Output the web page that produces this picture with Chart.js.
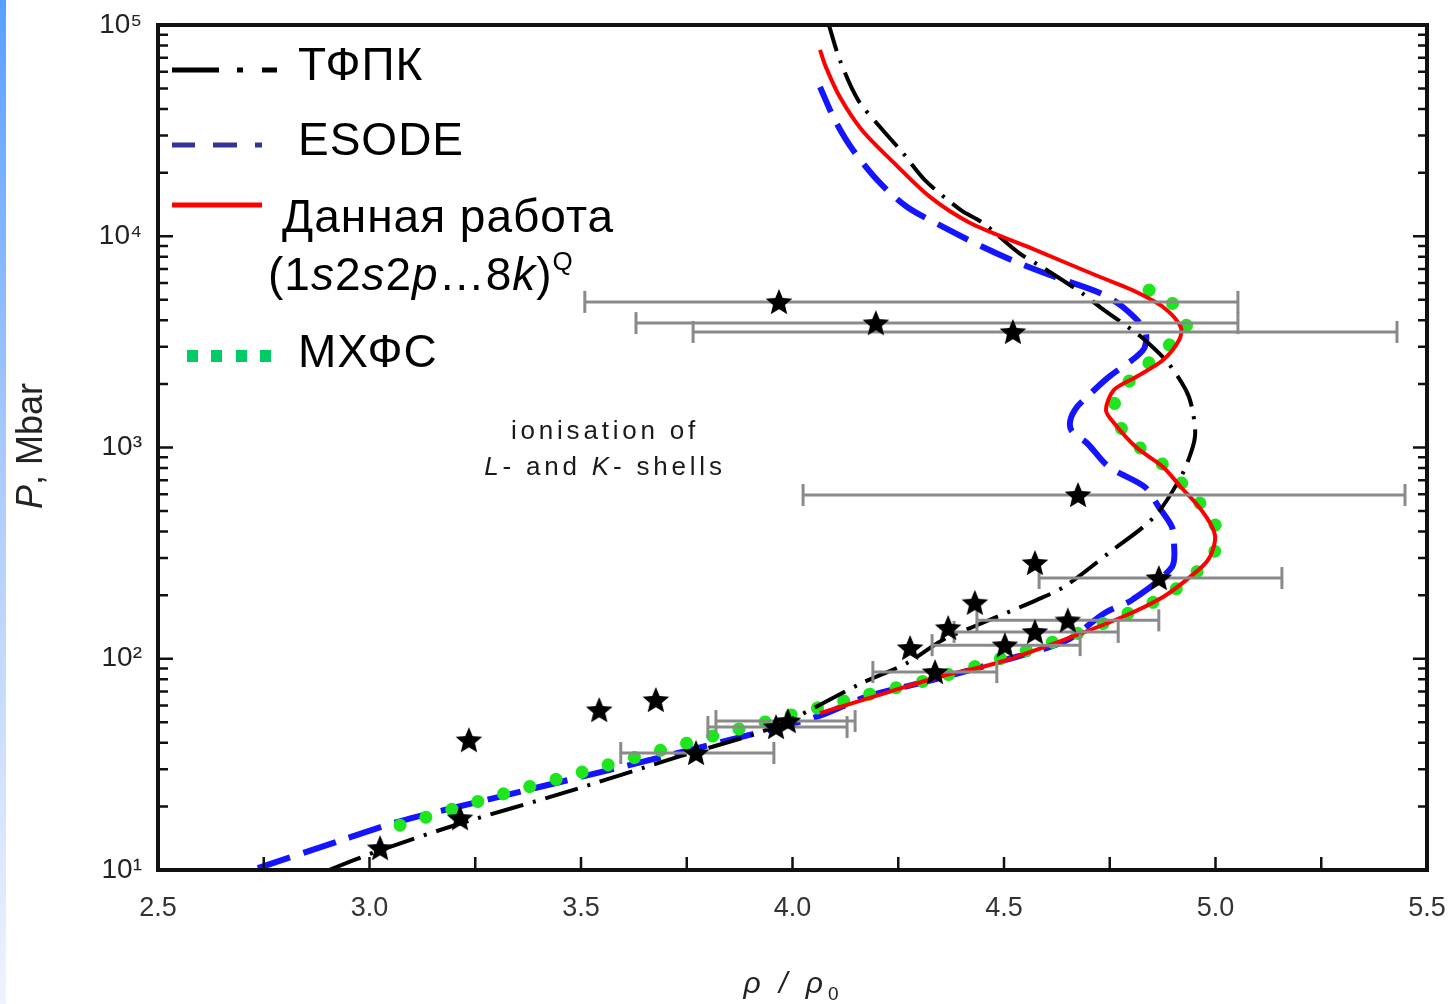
<!DOCTYPE html>
<html>
<head>
<meta charset="utf-8">
<script src="https://cdn.jsdelivr.net/npm/chart.js@4.4.1/dist/chart.umd.min.js"></script>
<style>
  html, body { margin: 0; padding: 0; background: #fff; width: 1454px; height: 1004px; overflow: hidden; }
  #wrap { position: relative; width: 1454px; height: 1004px; overflow: hidden; font-family: "Liberation Sans", Arial, sans-serif; }
  #strip { position: absolute; left: 0; top: 0; width: 6px; height: 1004px; background: linear-gradient(#58a0ff, #a9c9ff 45%, #eef3ff); }
  #chart { position: absolute; left: 0; top: 0; }
  #marks { position: absolute; left: 0; top: 0; }
  .lg { position: absolute; font-size: 46px; line-height: 46px; letter-spacing: 1px; color: #000; white-space: nowrap; }
  .note { position: absolute; left: 605px; top: 412px; transform: translateX(-50%); font-size: 26px; line-height: 36px; letter-spacing: 3.8px; color: #1a1a1a; text-align: center; white-space: nowrap; }
  .ytitle { position: absolute; left: 30px; top: 446px; transform: translate(-50%, -50%) rotate(-90deg); font-size: 36px; color: #222; white-space: nowrap; }
  .xtitle { position: absolute; left: 791px; top: 968px; transform: translateX(-50%); font-size: 30px; line-height: 30px; letter-spacing: 5px; color: #222; white-space: nowrap; font-style: italic; }
  .xtitle sub { font-style: normal; font-size: 19px; letter-spacing: 0; }
</style>
</head>
<body>
<div id="wrap">
  <div id="strip"></div>
  <canvas id="chart" width="1454" height="1004"></canvas>

  <!-- легенда -->
  <svg id="marks" width="300" height="380">
    <g stroke="#000" stroke-width="5">
      <line x1="172" y1="70" x2="219" y2="70"/>
      <line x1="237" y1="70" x2="243" y2="70"/>
      <line x1="262" y1="70" x2="277" y2="70"/>
    </g>
    <g stroke="#333399" stroke-width="5">
      <line x1="172" y1="145" x2="195" y2="145"/>
      <line x1="213" y1="145" x2="237" y2="145"/>
      <line x1="255" y1="145" x2="262" y2="145"/>
    </g>
    <line x1="172" y1="205" x2="262" y2="205" stroke="#ff0000" stroke-width="5"/>
    <g fill="#00cc66">
      <rect x="187" y="350" width="11" height="12"/>
      <rect x="211" y="350" width="11" height="12"/>
      <rect x="236" y="350" width="11" height="12"/>
      <rect x="260" y="350" width="11" height="12"/>
    </g>
  </svg>
  <div class="lg" style="left:298px;top:41px">ТФПК</div>
  <div class="lg" style="left:298px;top:116px">ESODE</div>
  <div class="lg" style="left:282px;top:193px">Данная работа</div>
  <div class="lg" style="left:268px;top:251px">(1<i>s</i>2<i>s</i>2<i>p</i>…8<i>k</i>)<span style="font-size:26px;position:relative;top:-20px">Q</span></div>
  <div class="lg" style="left:298px;top:328px">МХФС</div>

  <div class="note">ionisation of<br><i>L</i>- and <i>K</i>- shells</div>
  <div class="ytitle"><i>P</i>, Mbar</div>
  <div class="xtitle">ρ / ρ<sub>0</sub></div>
</div>

<script>
// оси
const xTicks = [2.5, 3.0, 3.5, 4.0, 4.5, 5.0, 5.5];
const yTicks = [10, 100, 1000, 10000, 100000];
const supDigits = ['⁰', '¹', '²', '³', '⁴', '⁵'];

// ТФПК (штрих-пунктир)
const tfpkRho = [2.904, 3.025, 3.219, 3.457, 3.729, 3.956, 4.164, 4.271, 4.356, 4.450, 4.578, 4.642, 4.748, 4.855, 4.918, 4.944, 4.952, 4.944, 4.930, 4.888, 4.833, 4.803, 4.727, 4.684, 4.590, 4.535, 4.450, 4.398, 4.313, 4.261, 4.207, 4.155, 4.112, 4.086];
const tfpkP = [10, 12.4, 16.7, 23.1, 34.3, 47.5, 76.7, 95.5, 123, 148, 190, 219, 317, 469, 725, 972, 1172, 1556, 1872, 2512, 3228, 3597, 4624, 5387, 7147, 8337, 11560, 13300, 18450, 24770, 32900, 44170, 68200, 100000];

// ESODE (штрихи)
const esodeRho = [2.736, 2.937, 3.067, 3.306, 3.566, 3.784, 4.056, 4.174, 4.349, 4.490, 4.647, 4.739, 4.803, 4.897, 4.902, 4.897, 4.866, 4.833, 4.748, 4.696, 4.660, 4.657, 4.672, 4.696, 4.748, 4.812, 4.833, 4.833, 4.781, 4.727, 4.621, 4.535, 4.450, 4.356, 4.271, 4.207, 4.143, 4.100, 4.065];
const esodeP = [10.2, 13.9, 16.9, 22.2, 29.7, 38.2, 53.0, 66, 81, 97, 122, 165, 190, 272, 353, 421, 523, 650, 809, 1050, 1200, 1350, 1550, 1734, 2158, 2681, 2993, 3597, 4624, 5387, 6414, 7470, 8898, 11070, 13750, 17860, 25600, 35500, 50900];

// Данная работа (сплошная)
const workRho = [4.065, 4.219, 4.346, 4.483, 4.642, 4.781, 4.876, 4.940, 4.982, 4.999, 4.992, 4.961, 4.918, 4.876, 4.812, 4.760, 4.741, 4.760, 4.812, 4.876, 4.914, 4.918, 4.876, 4.803, 4.727, 4.557, 4.420, 4.325, 4.240, 4.164, 4.112, 4.079, 4.065];
const workP = [55.3, 68.8, 82.0, 95.5, 123, 158, 196, 244, 293, 365, 421, 523, 650, 809, 1005, 1306, 1506, 1873, 2158, 2596, 3228, 3718, 4624, 5567, 6414, 8898, 11560, 15350, 22240, 31840, 45600, 63200, 76200];

// МХФС (точки)
const mhfsRho = [3.072, 3.306, 3.479, 3.708, 3.935, 4.174, 4.349, 4.490, 4.647, 4.786, 4.885, 4.951, 4.992, 5.007, 4.998, 4.965, 4.924, 4.876, 4.817, 4.770, 4.760, 4.770, 4.824, 4.876, 4.930, 4.918, 4.855, 4.796];
const mhfsP = [16.3, 22.6, 28.2, 37.8, 50.2, 67.3, 82, 100, 126, 162, 200, 253, 305, 375, 434, 540, 665, 830, 1015, 1290, 1506, 1810, 2320, 2900, 3600, 4460, 5390, 6210];

// эксперимент (звёзды)
const starRho = [3.025, 3.214, 3.235, 3.543, 3.677, 3.772, 3.961, 3.989, 4.278, 4.337, 4.368, 4.502, 4.431, 4.573, 4.651, 4.573, 4.866, 4.675, 3.968, 4.197, 4.521];
const starP = [12.7, 17.6, 41.2, 57.2, 63.8, 35.8, 47.5, 50.7, 112.5, 86.5, 140, 116, 184, 134, 152, 284, 241, 596, 4890, 3880, 3525];

// погрешности
const errP = [35.8, 47.5, 50.7, 86.5, 116, 134, 152, 241, 596, 4890, 3880, 3525];
const errLo = [3.594, 3.800, 3.819, 4.190, 4.330, 4.382, 4.436, 4.583, 4.025, 3.509, 3.630, 3.765];
const errHi = [3.956, 4.129, 4.148, 4.483, 4.680, 4.770, 4.866, 5.157, 5.448, 5.053, 5.053, 5.429];

const pts = (xs, ys) => xs.map((x, i) => ({ x, y: ys[i] }));

function makeStar(r) {
  const c = document.createElement('canvas');
  const s = Math.ceil(r * 2 + 2);
  c.width = s; c.height = s;
  const g = c.getContext('2d');
  g.beginPath();
  for (let i = 0; i < 10; i++) {
    const rr = i % 2 ? r * 0.45 : r;
    const a = -Math.PI / 2 + i * Math.PI / 5;
    g.lineTo(s / 2 + rr * Math.cos(a), s / 2 + rr * Math.sin(a) + 1);
  }
  g.closePath();
  g.fillStyle = '#000';
  g.fill();
  return c;
}

// рамка и засечки внутрь
const framePlugin = {
  id: 'frame',
  afterDatasetsDraw(chart) {
    const { ctx, chartArea: a, scales: { x, y } } = chart;
    ctx.save();
    ctx.strokeStyle = '#111';
    ctx.lineWidth = 4;
    ctx.strokeRect(a.left, a.top, a.right - a.left, a.bottom - a.top);
    ctx.lineWidth = 2.5;
    ctx.beginPath();
    for (let d = 1; d <= 5; d++) {
      for (let m = 1; m <= 9; m++) {
        const v = m * Math.pow(10, d);
        if (v > 1e5) break;
        const py = y.getPixelForValue(v);
        ctx.moveTo(a.left, py); ctx.lineTo(a.left + (m === 1 ? 15 : 10), py);
        ctx.moveTo(a.right, py); ctx.lineTo(a.right - (m === 1 ? 14 : 9), py);
      }
    }
    for (let v = 2.75; v < 5.5; v += 0.25) {
      const px = x.getPixelForValue(v);
      ctx.moveTo(px, a.bottom); ctx.lineTo(px, a.bottom - 13);
    }
    ctx.stroke();
    ctx.restore();
  }
};

Chart.defaults.font.family = '"Liberation Sans", Arial, sans-serif';

const curve = { showLine: true, pointRadius: 0, pointHoverRadius: 0, tension: 0.3, fill: false };

const datasets = [
  { ...curve, label: 'ESODE', data: pts(esodeRho, esodeP), borderColor: '#1414ff', borderWidth: 6, borderDash: [34, 14], order: 5 },
  { ...curve, label: 'МХФС', data: pts(mhfsRho, mhfsP), borderColor: '#1ee61e', borderWidth: 13, borderDash: [0.1, 27], borderCapStyle: 'round', order: 4 },
  { ...curve, label: 'ТФПК', data: pts(tfpkRho, tfpkP), borderColor: '#000', borderWidth: 4, borderDash: [34, 10, 3, 10], order: 3 },
  { ...curve, label: 'Данная работа', data: pts(workRho, workP), borderColor: '#ff0000', borderWidth: 4, order: 2 },
  ...errP.map((p, i) => ({
    label: 'err' + i,
    data: [{ x: errLo[i], y: p }, { x: errHi[i], y: p }],
    showLine: true, borderColor: '#8a8a8a', borderWidth: 3,
    pointStyle: 'line', pointRotation: 90, pointRadius: 11, pointBorderWidth: 3,
    pointBorderColor: '#8a8a8a', order: 1
  })),
  { label: 'эксперимент', data: pts(starRho, starP), showLine: false, pointStyle: makeStar(14), pointRadius: 14, order: 0 }
];

new Chart(document.getElementById('chart'), {
  type: 'scatter',
  data: { datasets },
  options: {
    responsive: false,
    animation: false,
    layout: { autoPadding: false, padding: { top: 25, right: 27, left: 0, bottom: 0 } },
    plugins: { legend: { display: false }, tooltip: { enabled: false } },
    scales: {
      x: {
        type: 'linear', min: 2.5, max: 5.5,
        // без запаса под крайние подписи, иначе область сдвигается
        afterFit: (s) => { s.height = 134; s.paddingLeft = 0; s.paddingRight = 0; },
        afterBuildTicks: (s) => { s.ticks = xTicks.map((v) => ({ value: v })); },
        ticks: { callback: (v) => Number(v).toFixed(1), color: '#333', font: { size: 27 }, padding: 22, maxRotation: 0, autoSkip: false },
        grid: { display: false, drawTicks: false },
        border: { display: false }
      },
      y: {
        type: 'logarithmic', min: 10, max: 100000,
        afterFit: (s) => { s.width = 158; s.paddingTop = 0; s.paddingBottom = 0; },
        afterBuildTicks: (s) => { s.ticks = yTicks.map((v) => ({ value: v })); },
        ticks: { callback: (v) => '10' + supDigits[Math.round(Math.log10(v))], color: '#222', font: { size: 28 }, padding: 16, autoSkip: false },
        grid: { display: false, drawTicks: false },
        border: { display: false }
      }
    }
  },
  plugins: [framePlugin]
});
</script>
</body>
</html>
